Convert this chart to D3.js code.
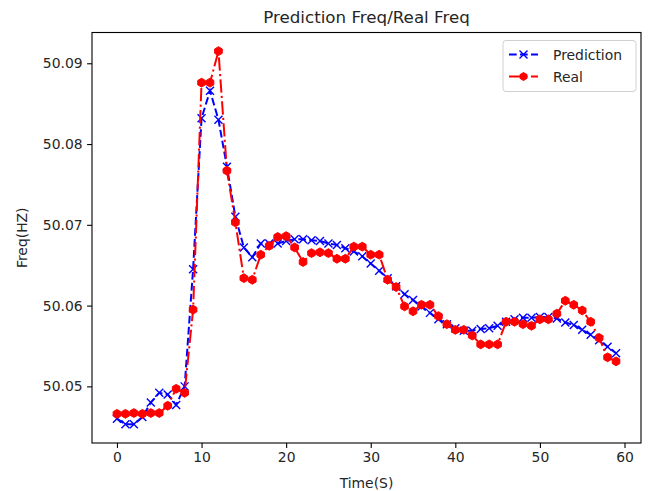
<!DOCTYPE html>
<html>
<head>
<meta charset="utf-8">
<script src="https://cdn.jsdelivr.net/npm/d3@7"></script>
<style>
  body { margin: 0; background: #fff; }
  svg { display: block; font-family: "DejaVu Sans", sans-serif; }
</style>
</head>
<body>
<div id="chart"></div>
<script>
// data
const seconds = d3.range(0, 60);
const prediction = [
  50.0460, 50.0453, 50.0453, 50.0462, 50.0480, 50.0492, 50.0490, 50.0477, 50.0500, 50.0645,
  50.0832, 50.0866, 50.0830, 50.0772, 50.0710, 50.0672, 50.0660, 50.0677, 50.0677, 50.0677,
  50.0680, 50.0682, 50.0682, 50.0681, 50.0680, 50.0677, 50.0675, 50.0671, 50.0667, 50.0661,
  50.0652, 50.0643, 50.0634, 50.0624, 50.0614, 50.0607, 50.0599, 50.0591, 50.0583, 50.0577,
  50.0572, 50.0569, 50.0569, 50.0571, 50.0572, 50.0575, 50.0580, 50.0583, 50.0585, 50.0585,
  50.0586, 50.0586, 50.0584, 50.0579, 50.0576, 50.0570, 50.0564, 50.0557, 50.0549, 50.0541
];
const real = [
  50.0466, 50.0466, 50.0467, 50.0466, 50.0467, 50.0467, 50.0476, 50.0497, 50.0492, 50.0595,
  50.0876, 50.0876, 50.0915, 50.0767, 50.0703, 50.0634, 50.0632, 50.0663, 50.0674, 50.0685,
  50.0686, 50.0672, 50.0654, 50.0665, 50.0666, 50.0665, 50.0658, 50.0658, 50.0673, 50.0673,
  50.0663, 50.0663, 50.0632, 50.0623, 50.0599, 50.0593, 50.0601, 50.0601, 50.0587, 50.0577,
  50.0570, 50.0570, 50.0563, 50.0552, 50.0552, 50.0552, 50.0580, 50.0580, 50.0577, 50.0575,
  50.0583, 50.0583, 50.0590, 50.0606, 50.0601, 50.0594, 50.0580, 50.0560, 50.0536, 50.0531
];
const xTicks = [0, 10, 20, 30, 40, 50, 60];
const yTicks = [50.05, 50.06, 50.07, 50.08, 50.09];
const seriesNames = ["Prediction", "Real"];

const W = 650, H = 491;
const margin = { top: 32.5, right: 9, bottom: 48, left: 92 };
const width = W - margin.left - margin.right;
const height = H - margin.top - margin.bottom;

const dashPred = "7.7,3.3";
const dashReal = "13.3,3.3,2.1,3.3";

const svg = d3.select("#chart").append("svg")
  .attr("width", W).attr("height", H);

const g = svg.append("g")
  .attr("transform", `translate(${margin.left},${margin.top})`);

// matplotlib style 5% margins
const xPad = (d3.max(seconds) - d3.min(seconds)) * 0.05;
const allY = prediction.concat(real);
const yPad = (d3.max(allY) - d3.min(allY)) * 0.05;

const x = d3.scaleLinear()
  .domain([d3.min(seconds) - xPad, d3.max(seconds) + xPad])
  .range([0, width]);
const y = d3.scaleLinear()
  .domain([d3.min(allY) - yPad, d3.max(allY) + yPad])
  .range([height, 0]);

// axes
const xAxis = g.append("g")
  .attr("transform", `translate(0,${height})`)
  .call(d3.axisBottom(x).tickValues(xTicks).tickFormat(d3.format("d")).tickSizeOuter(0).tickSize(4.9).tickPadding(4));
const yAxis = g.append("g")
  .call(d3.axisLeft(y).tickValues(yTicks).tickFormat(d3.format(".2f")).tickSizeOuter(0).tickSize(4.9).tickPadding(4.5));

[xAxis, yAxis].forEach(a => {
  a.select(".domain").remove();
  a.selectAll("line").attr("stroke", "#000").attr("stroke-width", 1.1);
  a.selectAll("text").attr("fill", "#262626").style("font-size", "13.9px")
    .style("font-family", "'DejaVu Sans', sans-serif");
});

// frame
g.append("rect")
  .attr("width", width).attr("height", height)
  .attr("fill", "none").attr("stroke", "#000").attr("stroke-width", 1.1);

// lines
const line = vals => d3.line().x((d, i) => x(seconds[i])).y(d => y(d))(vals);
const crossPath = "M-4,-4L4,4M-4,4L4,-4";

g.append("path")
  .attr("d", line(prediction))
  .attr("fill", "none").attr("stroke", "blue").attr("stroke-width", 2)
  .attr("stroke-dasharray", dashPred);

g.selectAll(".xmark").data(prediction).join("path")
  .attr("class", "xmark")
  .attr("transform", (d, i) => `translate(${x(seconds[i])},${y(d)})`)
  .attr("d", crossPath)
  .attr("stroke", "blue").attr("stroke-width", 1.4).attr("fill", "none");

g.append("path")
  .attr("d", line(real))
  .attr("fill", "none").attr("stroke", "red").attr("stroke-width", 2)
  .attr("stroke-dasharray", dashReal);

const hex = d3.range(6).map(k => {
  const a = Math.PI / 6 + k * Math.PI / 3;
  return [4.4 * Math.cos(a), 4.4 * Math.sin(a)];
});
const hexPath = "M" + hex.map(p => p.join(",")).join("L") + "Z";

g.selectAll(".hmark").data(real).join("path")
  .attr("class", "hmark")
  .attr("transform", (d, i) => `translate(${x(seconds[i])},${y(d)})`)
  .attr("d", hexPath)
  .attr("fill", "red").attr("stroke", "red").attr("stroke-width", 1);

// title and labels
svg.append("text")
  .attr("x", margin.left + width / 2).attr("y", 23)
  .attr("text-anchor", "middle").style("font-size", "16.7px").attr("fill", "#262626")
  .text("Prediction Freq/Real Freq");

svg.append("text")
  .attr("x", margin.left + width / 2).attr("y", 488)
  .attr("text-anchor", "middle").style("font-size", "13.9px").attr("fill", "#262626")
  .text("Time(S)");

svg.append("text")
  .attr("transform", `translate(27,${margin.top + height / 2}) rotate(-90)`)
  .attr("text-anchor", "middle").style("font-size", "13.9px").attr("fill", "#262626")
  .text("Freq(HZ)");

// legend
const lg = g.append("g").attr("transform", `translate(${width - 138},8)`);
lg.append("rect")
  .attr("width", 133).attr("height", 51).attr("rx", 3)
  .attr("fill", "#fff").attr("fill-opacity", 0.8)
  .attr("stroke", "#d0d0d0").attr("stroke-width", 1);

seriesNames.forEach((name, i) => {
  const row = lg.append("g").attr("transform", `translate(6,${14 + i * 22})`);
  const col = i === 0 ? "blue" : "red";
  row.append("line").attr("x1", 0).attr("x2", 29).attr("y1", 0).attr("y2", 0)
    .attr("stroke", col).attr("stroke-width", 2)
    .attr("stroke-dasharray", i === 0 ? dashPred : dashReal);
  if (i === 0) {
    row.append("path").attr("transform", "translate(14.5,0)")
      .attr("d", crossPath)
      .attr("stroke", "blue").attr("stroke-width", 1.4);
  } else {
    row.append("path").attr("transform", "translate(14.5,0)")
      .attr("d", hexPath).attr("fill", "red");
  }
  row.append("text").attr("x", 44).attr("y", 5)
    .style("font-size", "13.9px").attr("fill", "#262626").text(name);
});
</script>
</body>
</html>
